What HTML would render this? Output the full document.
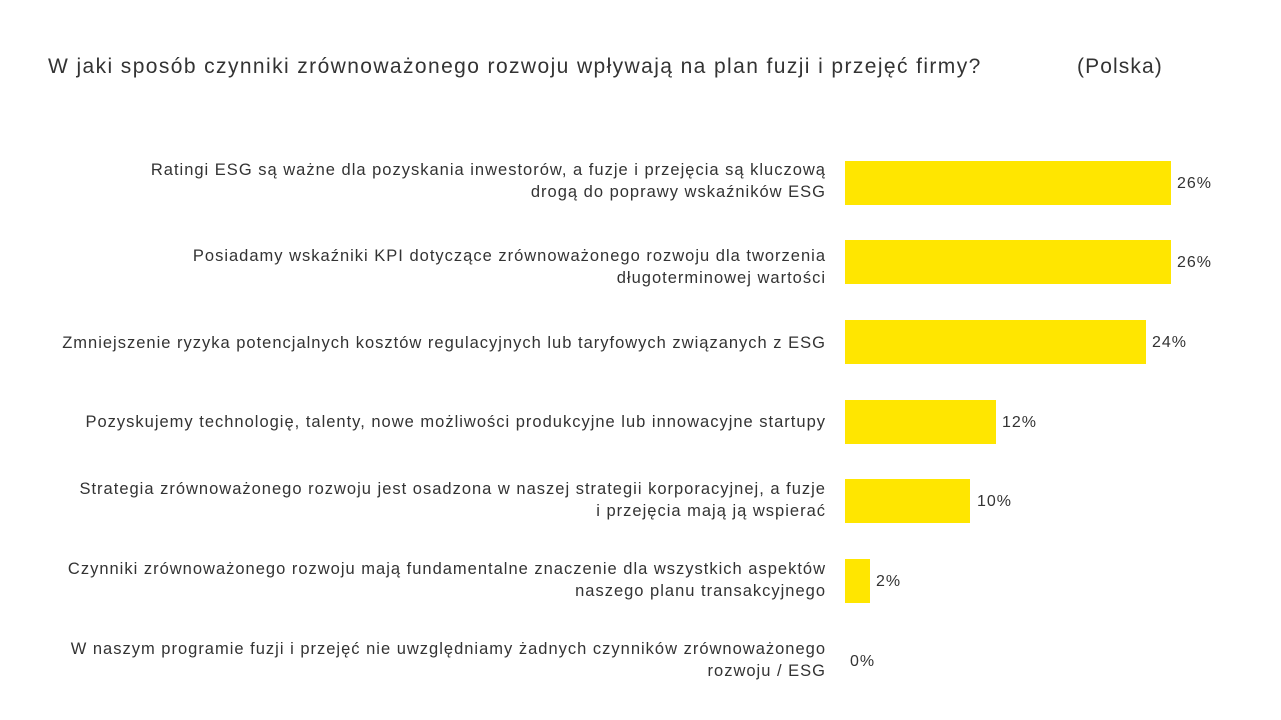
<!DOCTYPE html>
<html><head><meta charset="utf-8"><style>
body{margin:0;width:1281px;height:720px;background:#fff;font-family:"Liberation Sans",sans-serif;color:#333;position:relative;overflow:hidden}
.t{position:absolute;font-size:21px;top:55px;white-space:nowrap;letter-spacing:1.4px}
.l{position:absolute;right:455px;text-align:right;font-size:16.5px;line-height:22px;white-space:nowrap;letter-spacing:1px}
.b{position:absolute;left:845px;height:44px;background:#FFE600}
.v{position:absolute;font-size:16px;letter-spacing:1px}
</style></head><body>
<div class="t" style="left:48px">W jaki sposób czynniki zrównoważonego rozwoju wpływają na plan fuzji i przejęć firmy?</div>
<div class="t" style="left:1077px;letter-spacing:1.1px">(Polska)</div>

<div class="l" style="top:159px">Ratingi ESG są ważne dla pozyskania inwestorów, a fuzje i przejęcia są kluczową<br>drogą do poprawy wskaźników ESG</div>
<div class="b" style="top:161px;width:326px"></div><div class="v" style="left:1177px;top:175px">26%</div>

<div class="l" style="top:245px">Posiadamy wskaźniki KPI dotyczące zrównoważonego rozwoju dla tworzenia<br>długoterminowej wartości</div>
<div class="b" style="top:240px;width:326px"></div><div class="v" style="left:1177px;top:254px">26%</div>

<div class="l" style="top:332px">Zmniejszenie ryzyka potencjalnych kosztów regulacyjnych lub taryfowych związanych z ESG</div>
<div class="b" style="top:320px;width:301px"></div><div class="v" style="left:1152px;top:334px">24%</div>

<div class="l" style="top:411px">Pozyskujemy technologię, talenty, nowe możliwości produkcyjne lub innowacyjne startupy</div>
<div class="b" style="top:400px;width:151px"></div><div class="v" style="left:1002px;top:414px">12%</div>

<div class="l" style="top:478px">Strategia zrównoważonego rozwoju jest osadzona w naszej strategii korporacyjnej, a fuzje<br>i przejęcia mają ją wspierać</div>
<div class="b" style="top:479px;width:125px"></div><div class="v" style="left:977px;top:493px">10%</div>

<div class="l" style="top:558px">Czynniki zrównoważonego rozwoju mają fundamentalne znaczenie dla wszystkich aspektów<br>naszego planu transakcyjnego</div>
<div class="b" style="top:559px;width:25px"></div><div class="v" style="left:876px;top:573px">2%</div>

<div class="l" style="top:638px">W naszym programie fuzji i przejęć nie uwzględniamy żadnych czynników zrównoważonego<br>rozwoju / ESG</div>
<div class="v" style="left:850px;top:653px">0%</div>
</body></html>
